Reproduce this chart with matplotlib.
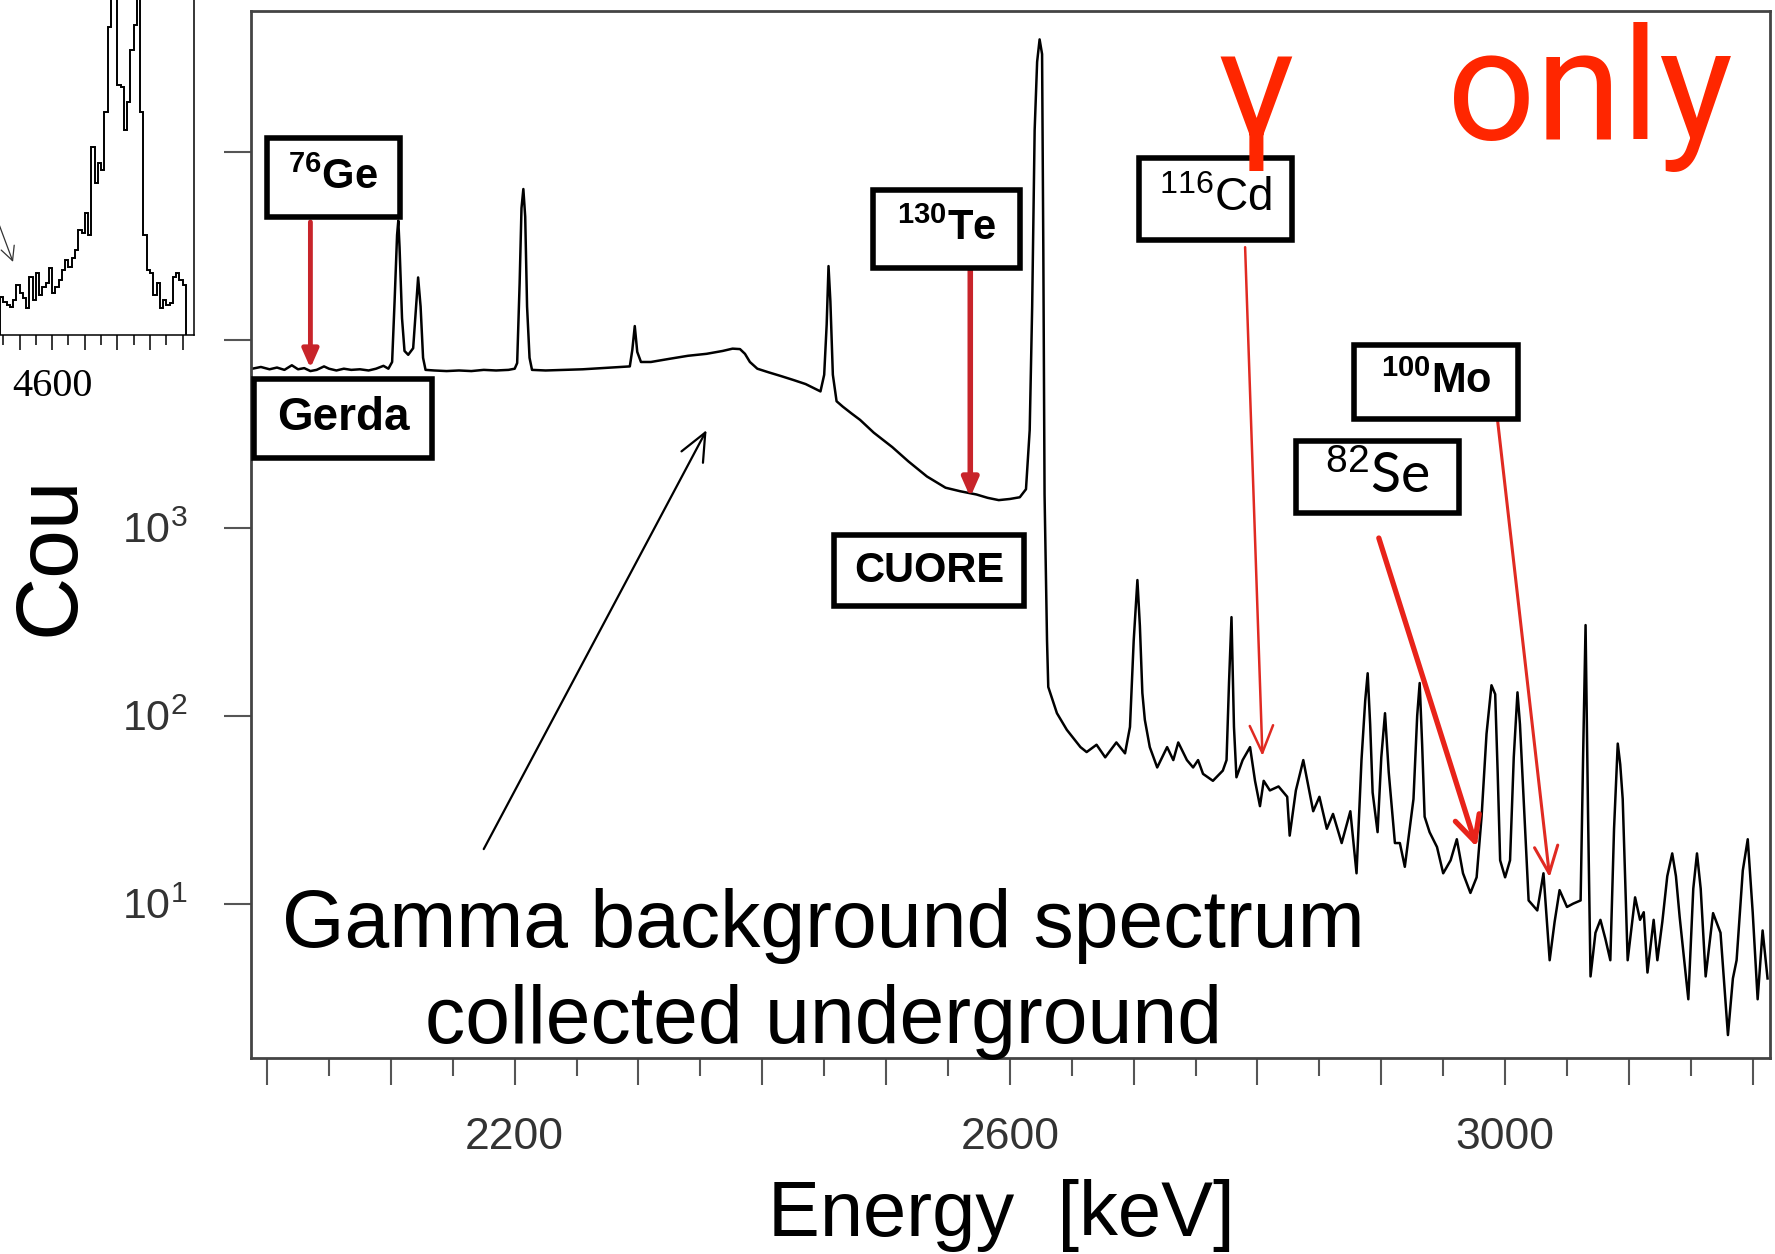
import numpy as np
import matplotlib
matplotlib.use("Agg")
import matplotlib.pyplot as plt
from matplotlib import font_manager as fm
from matplotlib.patches import Rectangle
from matplotlib.ticker import FixedLocator, FixedFormatter, NullLocator

# pick a condensed sans if it is there, plain Liberation Sans otherwise
names = {f.name for f in fm.fontManager.ttflist}
NARROW = "Liberation Sans Narrow" if "Liberation Sans Narrow" in names else "Liberation Sans"

plt.rcParams["font.family"] = ["Liberation Sans", "DejaVu Sans"]
plt.rcParams["mathtext.fontset"] = "custom"
plt.rcParams["mathtext.rm"] = NARROW
plt.rcParams["mathtext.bf"] = "Liberation Sans:bold"
plt.rcParams["mathtext.default"] = "rm"

# ---- gamma background spectrum (energy in keV, counts) ----
energy = [1988, 1995, 2002, 2008, 2014, 2020, 2025, 2030, 2035, 2040, 2046, 2050, 2056, 2062,
          2068, 2075, 2082, 2088, 2094, 2098,
          2101, 2103, 2105, 2106, 2107, 2109, 2111, 2114,
          2118, 2120, 2122, 2124, 2126, 2128,
          2135, 2145, 2155, 2165, 2175, 2185, 2195, 2200,
          2202, 2204, 2205.5, 2207, 2208.5, 2210, 2212, 2214,
          2225, 2240, 2255, 2270, 2285, 2293,
          2295, 2297, 2299, 2302,
          2310, 2325, 2340, 2355, 2368, 2376, 2382, 2386, 2390, 2396, 2405, 2415, 2425, 2435,
          2442, 2447,
          2450, 2452, 2453.5, 2455, 2457, 2460,
          2465, 2472, 2479, 2490, 2505, 2518, 2533, 2548, 2560, 2573, 2582, 2591, 2600, 2608,
          2613, 2616, 2618, 2620, 2622, 2624, 2626, 2627, 2628, 2630, 2631,
          2638, 2646, 2657, 2662, 2670, 2677, 2686, 2693, 2697, 2700, 2703, 2705, 2707, 2709,
          2713, 2719, 2727, 2732, 2736, 2743, 2748, 2752, 2756, 2764, 2772, 2775, 2777, 2779,
          2781, 2783, 2788, 2794, 2798, 2802, 2805, 2810, 2817, 2824, 2826, 2831, 2837, 2845,
          2850, 2856, 2861, 2868, 2875, 2880, 2884, 2887, 2889, 2891, 2893, 2897, 2900, 2903,
          2906, 2911, 2915, 2919, 2926, 2929, 2931, 2933, 2935, 2939, 2945, 2950, 2956, 2961,
          2966, 2972, 2977, 2981, 2985, 2989, 2992, 2994, 2996, 3000, 3004, 3007, 3010, 3012,
          3015, 3019, 3026, 3031, 3036, 3040, 3044, 3050, 3055, 3061, 3063, 3065, 3067, 3069,
          3073, 3077, 3081, 3085, 3088, 3091, 3093, 3095, 3099, 3105, 3109, 3112, 3115, 3120,
          3123, 3127, 3131, 3135, 3138, 3141, 3148, 3152, 3155, 3158, 3162, 3168, 3174, 3180,
          3184, 3187, 3192, 3196, 3200, 3204, 3208, 3212]
counts = [7000, 7150, 6950, 7100, 6900, 7300, 6950, 7050, 6800, 6900, 7200, 7000, 6850, 7000,
          6900, 6950, 6850, 7000, 7250, 7000,
          7600, 16000, 36000, 42900, 31000, 13000, 8700, 8300,
          9000, 14000, 21400, 15000, 8000, 6900,
          6850, 6800, 6850, 6800, 6900, 6850, 6900, 7000,
          7500, 20000, 50000, 63200, 45000, 15000, 8000, 6900,
          6850, 6900, 6950, 7050, 7150, 7200,
          8800, 11800, 8600, 7600,
          7600, 7900, 8200, 8400, 8700, 8950, 8900, 8400, 7600, 7000, 6700, 6400, 6100, 5800,
          5500, 5300,
          6500, 12000, 24600, 16000, 6500, 4700,
          4400, 4050, 3740, 3200, 2680, 2250, 1870, 1630, 1560, 1500, 1440, 1400, 1420, 1450,
          1600, 3300, 15000, 130000, 300000, 395000, 330000, 30000, 1500, 250, 142,
          103, 84, 68, 64, 70, 60, 72, 63, 87, 250, 526, 300, 132, 95,
          68, 53, 68, 58, 72, 58, 53, 58, 49, 45, 51, 58, 150, 334,
          87, 47, 58, 68, 45, 33, 45, 40, 42, 37, 23, 40, 58, 31,
          37, 25, 30, 21, 31, 14.5, 58, 120, 168, 90, 39, 24, 60, 103,
          50, 21, 21, 15.7, 36, 100, 149, 70, 29, 24, 20, 14.5, 17, 22,
          14.5, 11.4, 13.8, 29, 80, 145, 130, 50, 17, 13.8, 17, 60, 133, 90,
          36, 10.4, 9.2, 14.5, 5.0, 8, 11.8, 9.6, 10, 10.4, 60, 303, 30, 4.1,
          7.0, 8.2, 6.5, 5.0, 25, 71, 55, 36, 5, 10.8, 8.2, 9, 4.3, 8.2,
          5, 8, 14, 18.5, 14, 8.5, 3.1, 12, 18.5, 12, 4.1, 8.9, 7.0, 2.0,
          4, 5.0, 15, 22, 9, 3.1, 7.2, 4]

x_major = list(range(2000, 3201, 100))
x_minor = list(range(2050, 3151, 100))
x_labels = ["2200", "2600", "3000"]
y_ticks = [10, 100, 1000, 1e4, 1e5]
y_labels = ["$10^{1}$", "$10^{2}$", "$10^{3}$", "", ""]

# ---- piece of the neighbouring histogram (left edge of the slide) ----
inset_start = 4568
inset_bin = 2
inset_counts = [38, 33, 30, 28, 35, 50, 42, 37, 27, 58, 35, 62, 40, 48, 52, 67, 42, 48, 55,
                65, 75, 68, 77, 85, 105, 102, 122, 100, 188, 152, 172, 165, 223, 308, 420,
                450, 250, 248, 205, 233, 285, 310, 430, 223, 100, 65, 62, 40, 52, 27, 35,
                30, 32, 58, 62, 55, 50]

# ---- labels and arrows (energy keV, counts) ----
box_text = [r"$^{\mathbf{76}}$Ge", "Gerda", r"$^{\mathbf{130}}$Te", "CUORE",
            r"$^{116}$Cd", r"$^{\mathbf{100}}$Mo", r"$^{82}$Se"]
box_geom = [(0.0105, 0.8032, 0.0876, 0.0755), (0.0020, 0.5731, 0.1172, 0.0755),
            (0.4095, 0.7545, 0.0968, 0.0745), (0.3838, 0.4317, 0.1251, 0.0678),
            (0.5846, 0.7813, 0.1007, 0.0783), (0.7261, 0.6103, 0.1080, 0.0707),
            (0.6880, 0.5205, 0.1073, 0.0688)]
box_font = [("Liberation Sans", "bold", 30), ("Liberation Sans", "bold", 33),
            ("Liberation Sans", "bold", 30), ("Liberation Sans", "bold", 30),
            ("Liberation Sans", "normal", 33), ("Liberation Sans", "bold", 30),
            ("Lato", "normal", 40)]

fig = plt.figure(figsize=(17.75, 12.54), dpi=100)
ax = fig.add_axes([0.1414, 0.1563, 0.8558, 0.8349])

ax.plot(energy, counts, color="black", lw=1.8, zorder=2)
ax.set_yscale("log")
ax.set_xlim(1987, 3214)
ax.set_ylim(1.51, 5.59e5)

ax.xaxis.set_major_locator(FixedLocator(x_major))
ax.xaxis.set_major_formatter(FixedFormatter(
    [str(v) if str(v) in x_labels else "" for v in x_major]))
ax.xaxis.set_minor_locator(FixedLocator(x_minor))
ax.yaxis.set_major_locator(FixedLocator(y_ticks))
ax.yaxis.set_major_formatter(FixedFormatter(y_labels))
ax.yaxis.set_minor_locator(NullLocator())
ax.tick_params(axis="x", which="major", direction="out", length=19.5, width=1.5,
               color="#555555", pad=23, labelsize=32, labelcolor="#333333")
ax.tick_params(axis="x", which="minor", direction="out", length=13, width=1.5, color="#555555")
ax.tick_params(axis="y", which="major", direction="out", length=19.5, width=1.5,
               color="#555555", pad=26, labelsize=31, labelcolor="#333333")
for lab in ax.get_xticklabels():
    lab.set_family(NARROW)
for s in ax.spines.values():
    s.set_color("#444444")
    s.set_linewidth(2)

# isotope boxes
for (x0, y0, w, h), txt, (fam, wt, sz) in zip(box_geom, box_text, box_font):
    ax.add_patch(Rectangle((x0, y0), w, h, transform=ax.transAxes, facecolor="white",
                           edgecolor="black", lw=4, zorder=5, clip_on=False))
    ax.text(x0 + w / 2, y0 + h / 2, txt, transform=ax.transAxes, ha="center", va="center",
            family=[fam, "DejaVu Sans"], fontweight=wt, fontsize=sz, zorder=6)

# red arrows to the Q-values
def red_arrow(start, end, lw, style, color, scale):
    ax.annotate("", xy=end, xytext=start, zorder=4,
                arrowprops=dict(arrowstyle=style, color=color, lw=lw, shrinkA=0, shrinkB=0,
                                mutation_scale=scale))

red_arrow((2035, 42200), (2035, 7050), 3.5, "-|>,head_length=0.5,head_width=0.22", "#c8242a", 22)
red_arrow((2568, 23500), (2568, 1450), 4.0, "-|>,head_length=0.5,head_width=0.22", "#c8242a", 22)
red_arrow((2790, 31000), (2804, 61), 1.8, "->,head_length=0.7,head_width=0.3", "#e02a22", 28)
red_arrow((2898, 880), (2977, 20), 3.8, "->,head_length=0.6,head_width=0.3", "#e8231a", 30)
red_arrow((2994, 3680), (3036, 13.8), 2.2, "->,head_length=0.7,head_width=0.3", "#e02a22", 28)

# black arrow to the continuum
ax.annotate("", xy=(2355, 3300), xytext=(2175, 19.5), zorder=4,
            arrowprops=dict(arrowstyle="->,head_length=0.8,head_width=0.35", color="black",
                            lw=1.6, shrinkA=0, shrinkB=0, mutation_scale=25))

fig.text(0.464, 0.2448, "Gamma background spectrum", ha="center", va="baseline",
         fontsize=58, family="Liberation Sans", zorder=7)
fig.text(0.464, 0.1683, "collected underground", ha="center", va="baseline",
         fontsize=58, family="Liberation Sans", zorder=7)

fig.text(0.564, 0.0144, "Energy  [keV]", ha="center", va="baseline", fontsize=56,
         family="Liberation Sans")
fig.text(0.0287, 0.5566, "Cou", rotation=90, ha="center", va="center", fontsize=63,
         family=NARROW)

fig.text(0.7070, 0.8892, "γ", ha="center", va="baseline", fontsize=112,
         family=["Roboto", "DejaVu Sans"], color="#ff2600", zorder=8)
fig.text(0.8152, 0.8892, "only", ha="left", va="baseline", fontsize=112,
         family=["Roboto", "DejaVu Sans"], color="#ff2600", zorder=8)

# ---- inset: cut piece of the other plot ----
axi = fig.add_axes([0.0, 0.7329, 0.1093, 0.2671])
edges = inset_start + inset_bin * np.arange(len(inset_counts) + 1)
axi.stairs(inset_counts, edges, color="black", lw=1.4)
axi.set_xlim(4568, 4687)
axi.set_ylim(0, 335)
axi.spines["top"].set_visible(False)
axi.spines["left"].set_visible(False)
for s in ("right", "bottom"):
    axi.spines[s].set_linewidth(1.1)
axi.set_yticks([])
axi.xaxis.set_major_locator(FixedLocator(list(range(4580, 4681, 20))))
axi.xaxis.set_major_formatter(FixedFormatter(["", "4600", "", "", "", ""]))
axi.xaxis.set_minor_locator(FixedLocator(list(range(4570, 4671, 20))))
axi.tick_params(axis="x", which="major", direction="out", length=10.8, width=1.1, pad=13,
                labelsize=29)
axi.tick_params(axis="x", which="minor", direction="out", length=7, width=1.1)
for lab in axi.get_xticklabels():
    lab.set_family("Liberation Serif")
axi.annotate("", xy=(4576, 73), xytext=(4560, 143),
             arrowprops=dict(arrowstyle="->,head_length=0.5,head_width=0.25", color="#333333",
                             lw=0.9, shrinkA=0, shrinkB=0, mutation_scale=20))

fig.savefig("out.png", dpi=100)
